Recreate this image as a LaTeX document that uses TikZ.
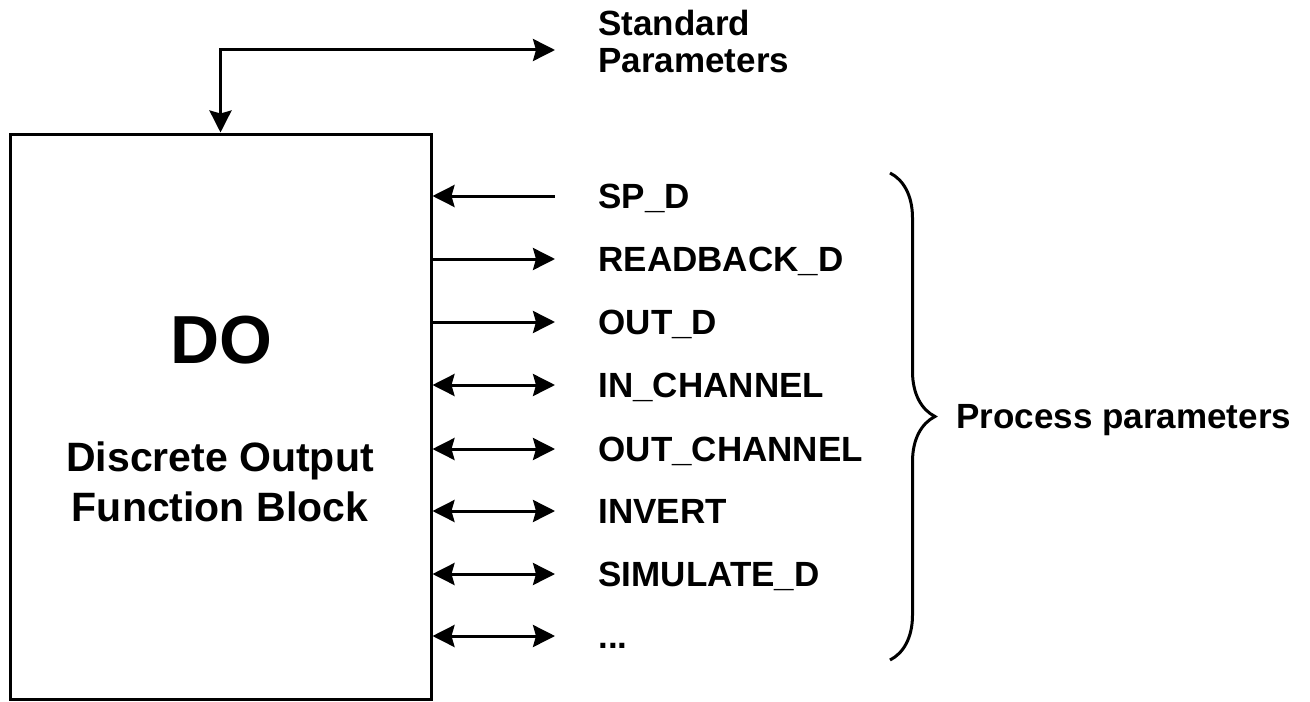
\documentclass[tikz,border=0pt]{standalone}
\usepackage{fontspec}
\setmainfont{Liberation Sans}
\usetikzlibrary{calc,arrows.meta,decorations.pathreplacing}
\newcommand{\Px}{0.5pt}
\tikzset{Block/.style={
    inner sep=0pt,
    minimum width=210.5pt,
    minimum height=282.5pt,
    draw=black,
    line width=1.5pt,
    }
}
\tikzset{Param/.style={
    inner sep=0pt,
    anchor=base west,
    align=left,
    font=\fontsize{17.5}{18.5}\selectfont\bfseries,
    }
}
\begin{document}
\begin{tikzpicture}[x=\Px, y=-\Px, line width=1.5pt,
    >={Stealth[length=11pt,width=11pt,inset=1.5pt]},
    title/.style={inner sep=0pt, anchor=base,
    font=\fontsize{34}{40}\selectfont\bfseries},
    desc/.style={inner sep=0pt, align=center,
    font=\fontsize{20.5}{25}\selectfont\bfseries},
]
\useasboundingbox (0,0) rectangle (1310,701);
% the function block
\node [Block] (do) at (220.5,416.5) {};
\node [title] (dotitle) at (221,363) {DO};
\node [desc] (dotext) at (220,482) {Discrete Output\\Function Block};
% standard parameters
\coordinate (s1) at (555,50);
\node [Param,anchor=west] (std) at ($(s1)+(42,-9)$) {Standard\\Parameters};
\draw[<->] (do.north) |- (s1);
% process parameters
\pgfmathsetmacro{\row}{196};
\coordinate (t1) at (555,\row);
\node [Param] (spd) at ($(t1)+(42,12)$) {SP\_D};
\draw[<-] (do.east |- t1) -- (t1);
\pgfmathsetmacro{\row}{259};
\coordinate (t2) at (555,\row);
\node [Param] (readback) at ($(t2)+(42,12)$) {READBACK\_D};
\draw[->] (do.east |- t2) -- (t2);
\pgfmathsetmacro{\row}{322};
\coordinate (t3) at (555,\row);
\node [Param] (outd) at ($(t3)+(42,12)$) {OUT\_D};
\draw[->] (do.east |- t3) -- (t3);
\pgfmathsetmacro{\row}{385};
\coordinate (t4) at (555,\row);
\node [Param] (inchannel) at ($(t4)+(42,12)$) {IN\_CHANNEL};
\draw[<->] (do.east |- t4) -- (t4);
\pgfmathsetmacro{\row}{449};
\coordinate (t5) at (555,\row);
\node [Param] (outchannel) at ($(t5)+(42,12)$) {OUT\_CHANNEL};
\draw[<->] (do.east |- t5) -- (t5);
\pgfmathsetmacro{\row}{511};
\coordinate (t6) at (555,\row);
\node [Param] (invert) at ($(t6)+(42,12)$) {INVERT};
\draw[<->] (do.east |- t6) -- (t6);
\pgfmathsetmacro{\row}{574};
\coordinate (t7) at (555,\row);
\node [Param] (simulate) at ($(t7)+(42,12)$) {SIMULATE\_D};
\draw[<->] (do.east |- t7) -- (t7);
\pgfmathsetmacro{\row}{636};
\coordinate (t8) at (555,\row);
\node [Param] (more) at ($(t8)+(42,12)$) {...};
\draw[<->] (do.east |- t8) -- (t8);
% brace
\coordinate (b1) at (890,173);
\coordinate (b2) at (890,660);
\draw[decorate, decoration={brace, amplitude=22.5pt}] (b1) -- (b2);
\node [Param] (process) at ($($(b1)!0.5!(b2)$)+(65,11.5)$) {Process parameters};
\end{tikzpicture}
\end{document}
